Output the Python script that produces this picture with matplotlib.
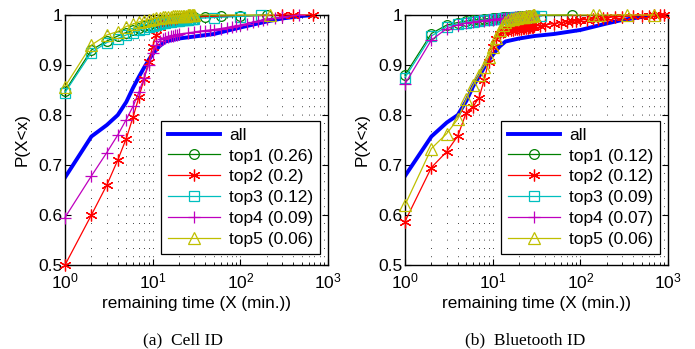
import numpy as np
import matplotlib
matplotlib.use('Agg')
import matplotlib.pyplot as plt
from matplotlib.ticker import LogLocator, NullFormatter

plt.rcParams['font.family'] = ['Liberation Sans', 'DejaVu Sans']
plt.rcParams['mathtext.fontset'] = 'custom'
plt.rcParams['mathtext.rm'] = 'Liberation Sans'
plt.rcParams['mathtext.it'] = 'Liberation Sans:italic'
plt.rcParams['font.size'] = 12

# ---- data: left panel (Cell ID) ----
x_all = [1, 2, 3, 4, 5, 6, 7, 8, 9, 10, 12, 14, 20, 30, 50, 100, 200, 300, 500, 700]
cell_all = [.675, .757, .780, .800, .826, .855, .877, .895, .91, .922, .938, .947, .953,
            .957, .962, .975, .987, .993, .998, 1.0]

x_cell_top1 = list(range(1, 31)) + [40, 60, 100, 200]
cell_top1 = [.848, .93, .948, .958, .965, .97, .975, .978, .981, .984,
             .986, .988, .989, .99, .991, .992, .993, .993, .994, .994,
             .994, .995, .995, .995, .995, .996, .996, .996, .996, .996,
             .997, .998, .998, 1.0]

x_cell_top2 = list(range(1, 26)) + [30, 300, 400, 680]
cell_top2 = [.5, .6, .66, .71, .753, .797, .837, .873, .907, .937,
             .96, .977, .983, .986, .988, .989, .99, .991, .991, .992,
             .993, .993, .994, .994, .995, .996, 1.0, 1.0, 1.0]

x_cell_top3 = list(range(1, 31)) + [50, 100, 170]
cell_top3 = [.845, .925, .945, .953, .96, .965, .97, .973, .976, .979,
             .981, .983, .984, .985, .986, .987, .988, .988, .989, .989,
             .99, .99, .991, .991, .991, .992, .992, .992, .993, .993,
             .995, .997, 1.0]

x_cell_top4 = list(range(1, 21)) + [25, 30, 35, 40, 45, 50, 60, 70, 80, 90, 100,
                                    120, 140, 160, 180, 200, 250, 300, 470]
cell_top4 = [.595, .678, .725, .76, .791, .818, .847, .875, .90, .925,
             .94, .948, .952, .955, .957, .958, .959, .96, .961, .962,
             .964, .966, .968, .969, .97, .971, .973, .975, .977, .978, .98,
             .983, .986, .988, .99, .992, .994, .996, 1.0]

x_cell_top5 = list(range(1, 31)) + [217]
cell_top5 = [.857, .94, .96, .967, .977, .982, .986, .989, .991, .993,
             .994, .995, .996, .996, .997, .997, .998, .998, .998, .999,
             .999, .999, .999, .999, 1.0, 1.0, 1.0, 1.0, 1.0, 1.0,
             1.0]

# ---- data: right panel (Bluetooth ID) ----
bt_all = [.678, .757, .785, .80, .828, .858, .877, .895, .91, .92, .937, .947, .953,
          .958, .962, .97, .983, .99, .996, 1.0]

x_bt_top1 = list(range(1, 31)) + [80]
bt_top1 = [.88, .963, .98, .985, .988, .99, .991, .992, .993, .994,
           .995, .995, .996, .996, .996, .997, .997, .997, .997, .998,
           .998, .998, .998, .998, .999, .999, .999, .999, .999, .999,
           1.0]

x_bt_top2 = list(range(1, 31)) + [35, 40, 50, 60, 70, 80, 90, 100, 120, 140, 160,
                                  180, 200, 250, 300, 400, 500, 600, 700, 800, 900]
bt_top2 = [.587, .695, .727, .758, .805, .817, .835, .87, .907, .937,
           .953, .963, .966, .968, .97, .971, .971, .972, .972, .973,
           .973, .974, .974, .975, .975, .976, .976, .977, .977, .978,
           .979, .98, .983, .985, .987, .988, .989, .99, .991, .992, .993,
           .994, .995, .996, .997, .998, .999, .999, 1.0, 1.0, 1.0]

x_bt_top3 = list(range(1, 31)) + [36]
bt_top3 = [.875, .958, .977, .982, .985, .987, .989, .99, .991, .992,
           .993, .993, .994, .994, .995, .995, .995, .996, .996, .996,
           .996, .997, .997, .997, .997, .997, .998, .998, .998, .998,
           .998]

x_bt_top4 = list(range(1, 31))
bt_top4 = [.862, .95, .973, .98, .984, .986, .988, .989, .99, .991,
           .992, .993, .993, .994, .994, .995, .995, .996, .996, .996,
           .997, .997, .997, .998, .998, .998, .999, .999, .999, 1.0]

x_bt_top5 = list(range(1, 31)) + [140, 165, 340, 700]
bt_top5 = [.62, .733, .763, .792, .832, .86, .88, .897, .917, .937,
           .955, .97, .98, .987, .99, .992, .993, .994, .995, .996,
           .996, .997, .997, .998, .998, .999, .999, .999, 1.0, 1.0,
           1.0, 1.0, 1.0, 1.0]

labels_cell = ['all', 'top1 (0.26)', 'top2 (0.2)', 'top3 (0.12)', 'top4 (0.09)', 'top5 (0.06)']
labels_bt = ['all', 'top1 (0.12)', 'top2 (0.12)', 'top3 (0.09)', 'top4 (0.07)', 'top5 (0.06)']

# matlab-ish colours / markers
colors = ['#0000ff', '#008000', '#ff0000', '#00bfbf', '#bf00bf', '#bfbf00']
markers = [None, 'o', (6, 2, 0), 's', '+', '^']
msizes = [0, 7, 8.5, 6.5, 8.5, 8]

fig = plt.figure(figsize=(6.95, 3.49), dpi=100)
ax1 = fig.add_axes([65/695, 84/349, 263/695, 250/349])
ax2 = fig.add_axes([405/695, 84/349, 263/695, 250/349])

panels = [
    (ax1, [(x_all, cell_all), (x_cell_top1, cell_top1), (x_cell_top2, cell_top2),
           (x_cell_top3, cell_top3), (x_cell_top4, cell_top4), (x_cell_top5, cell_top5)],
     labels_cell, '(a)  Cell ID', 0.449),
    (ax2, [(x_all, bt_all), (x_bt_top1, bt_top1), (x_bt_top2, bt_top2),
           (x_bt_top3, bt_top3), (x_bt_top4, bt_top4), (x_bt_top5, bt_top5)],
     labels_bt, '(b)  Bluetooth ID', 0.456),
]

for ax, series, labels, caption, cx in panels:
    for i, (xs, ys) in enumerate(series):
        if i == 0:
            ax.plot(xs, ys, color=colors[0], lw=2.8, label=labels[0], zorder=2)
        else:
            ax.plot(xs, ys, color=colors[i], lw=0.9, marker=markers[i], ms=msizes[i],
                    mfc='none', mec=colors[i], mew=0.9, label=labels[i],
                    clip_on=False, zorder=2 + i)
    ax.set_xscale('log')
    ax.set_xlim(1, 1000)
    ax.set_ylim(0.5, 1.0)
    ax.set_yticks([0.5, 0.6, 0.7, 0.8, 0.9, 1.0])
    ax.set_yticklabels(['0.5', '0.6', '0.7', '0.8', '0.9', '1'])
    ax.xaxis.set_minor_locator(LogLocator(base=10, subs=np.arange(2, 10), numticks=20))
    ax.xaxis.set_minor_formatter(NullFormatter())
    ax.tick_params(which='both', direction='in', top=True, right=True, labelsize=12.5)
    ax.tick_params(which='major', length=4)
    ax.tick_params(which='minor', length=2)
    ax.tick_params(axis='x', pad=5)
    ax.tick_params(axis='y', pad=2)
    ax.grid(True, which='both', axis='x', color='k', ls=(0, (1, 9)), lw=0.6)
    for s in ax.spines.values():
        s.set_linewidth(1.0)
    ax.set_xlabel('remaining time (X (min.))', fontsize=12.3, labelpad=3)
    ax.set_ylabel('P(X<x)', fontsize=12.3, labelpad=6)
    leg = ax.legend(loc='lower right', bbox_to_anchor=(0.97, 0.044), borderaxespad=0,
                    fontsize=12.5, handlelength=3.0, labelspacing=0.33, borderpad=0.4,
                    fancybox=False, edgecolor='k', framealpha=1, handletextpad=0.5)
    leg.get_frame().set_linewidth(0.9)
    ax.text(cx, -0.316, caption, transform=ax.transAxes, ha='center', va='baseline',
            family='Liberation Serif', fontsize=12.5)

fig.savefig('out.png', dpi=100)
